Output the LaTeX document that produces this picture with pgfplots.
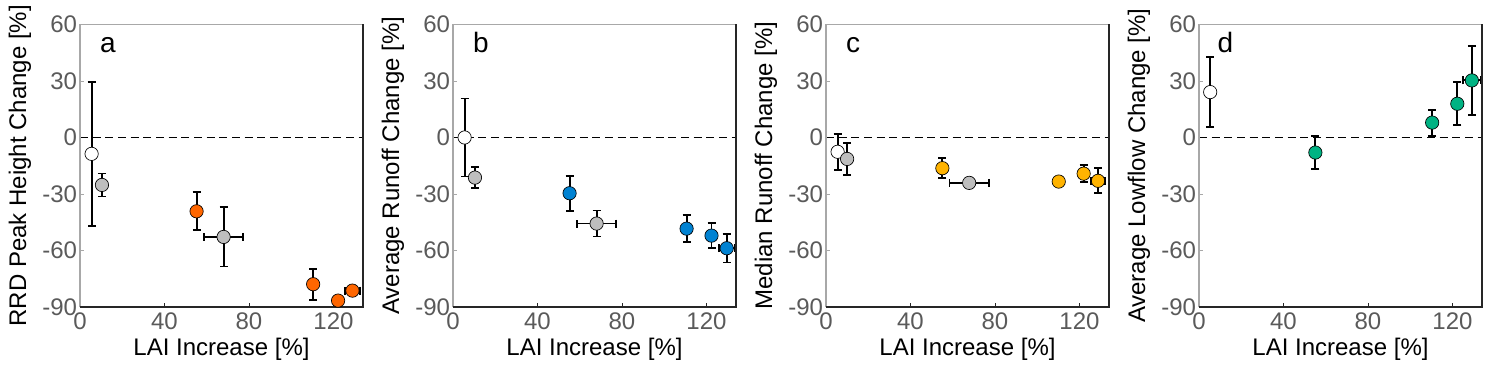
\documentclass[border=0pt]{standalone}
\usepackage{pgfplots}
\pgfplotsset{compat=1.18}
\usepackage{fontspec}
\setmainfont{Liberation Sans}
\definecolor{tickgray}{HTML}{5A5A5A}
\definecolor{axgray}{HTML}{A8A8A8}
\definecolor{dark}{HTML}{262626}
\definecolor{ptgray}{HTML}{BEBEBE}
\definecolor{porange}{HTML}{FF6600}
\definecolor{pblue}{HTML}{0082D2}
\definecolor{pyellow}{HTML}{FFB300}
\definecolor{pgreen}{HTML}{00B383}
\pgfplotsset{
  panel/.style={
    width=212.25pt, height=211.9pt, scale only axis,
    anchor=south west,
    xmin=0, xmax=134, ymin=-90, ymax=60,
    xtick={0,40,80,120}, xticklabels={0,40,80,120},
    ytick={-90,-60,-30,0,30,60}, yticklabels={-90,-60,-30,0,30,60},
    tick align=inside, major tick length=3pt, tick pos=left,
    axis line style={draw=none},
    ticklabel style={font=\fontsize{18}{20}\selectfont, text=tickgray},
    xticklabel style={inner sep=1pt, yshift=-3pt},
    yticklabel style={inner sep=2pt},
    x tick style={dark, line width=0.6pt},
    y tick style={axgray, line width=0.6pt},
    label style={font=\fontsize{18}{20}\selectfont},
    xlabel={LAI Increase [\%]},
    xlabel style={at={(axis description cs:0.5,-0.17)}, anchor=base, inner sep=0pt},
    ylabel style={at={(axis description cs:-0.19,0.5)}, anchor=base, inner sep=0pt},
    clip=false,
  },
  pts/.style={
    only marks, mark=*, mark size=5pt,
    mark options={draw=black, line width=0.5pt, fill=#1},
    error bars/.cd, x dir=both, x explicit, y dir=both, y explicit,
    error bar style={line width=1.4pt, black},
    error mark options={rotate=90, black, mark size=3pt, line width=1.4pt},
  },
  zero/.style={black, line width=1.4pt, dash pattern=on 6pt off 3.5pt, forget plot},
}
\newcommand{\frameaxis}{%
  \draw[axgray, line width=1pt] (rel axis cs:0,0) -- (rel axis cs:0,1) -- (rel axis cs:1,1);
  \draw[dark, line width=1pt] (rel axis cs:0,0) -- (rel axis cs:1,0) -- (rel axis cs:1,1);}
\newcommand{\panelletter}[2]{\node[anchor=base west, inner sep=0pt, font=\fontsize{21}{24}\selectfont] at (axis description cs:#1,0.9) {#2};}
\begin{document}
\begin{tikzpicture}
\useasboundingbox (0,0) rectangle (1117.5pt,289.5pt);
% ---------- a ----------
\begin{axis}[panel, at={(60pt,59.25pt)}, ylabel={RRD Peak Height Change [\%]}]
\addplot[zero] coordinates {(0,0) (134,0)};
\addplot[pts=white] table[x=x, y=y, x error=ex, y error=ey, row sep=\\] {
x y ex ey \\
5.5 -8.7 0 38.3 \\
};
\addplot[pts=ptgray] table[x=x, y=y, x error=ex, y error=ey, row sep=\\] {
x y ex ey \\
10.4 -25.2 0 6.1 \\
68.0 -52.8 9.2 15.7 \\
};
\addplot[pts=porange] table[x=x, y=y, x error=ex, y error=ey, row sep=\\] {
x y ex ey \\
55.2 -39.2 0 10.1 \\
110.4 -77.9 0 8.3 \\
122.2 -86.6 2.0 2.0 \\
129.0 -81.3 3.6 2.0 \\
};
\frameaxis
\panelletter{0.07}{a}
\end{axis}
% ---------- b ----------
\begin{axis}[panel, at={(339.75pt,59.25pt)}, ylabel={Average Runoff Change [\%]}]
\addplot[zero] coordinates {(0,0) (134,0)};
\addplot[pts=white] table[x=x, y=y, x error=ex, y error=ey, row sep=\\] {
x y ex ey \\
5.5 0 0 20.7 \\
};
\addplot[pts=ptgray] table[x=x, y=y, x error=ex, y error=ey, row sep=\\] {
x y ex ey \\
10.4 -21.3 0 5.4 \\
68.0 -45.7 9.2 6.9 \\
};
\addplot[pts=pblue] table[x=x, y=y, x error=ex, y error=ey, row sep=\\] {
x y ex ey \\
55.2 -29.6 0 9.3 \\
110.6 -48.4 0 7.3 \\
122.4 -52.1 2.0 6.8 \\
129.6 -58.8 3.7 7.6 \\
};
\frameaxis
\panelletter{0.07}{b}
\end{axis}
% ---------- c ----------
\begin{axis}[panel, at={(619.5pt,59.25pt)}, ylabel={Median Runoff Change [\%]}]
\addplot[zero] coordinates {(0,0) (134,0)};
\addplot[pts=white] table[x=x, y=y, x error=ex, y error=ey, row sep=\\] {
x y ex ey \\
5.5 -7.6 0 9.6 \\
};
\addplot[pts=ptgray] table[x=x, y=y, x error=ex, y error=ey, row sep=\\] {
x y ex ey \\
10.0 -11.4 0 8.4 \\
67.8 -24.1 9.3 2.0 \\
};
\addplot[pts=pyellow] table[x=x, y=y, x error=ex, y error=ey, row sep=\\] {
x y ex ey \\
55.1 -16.3 0 5.2 \\
110.2 -23.4 0 1.5 \\
122.0 -19.2 1.5 4.6 \\
128.8 -23.0 3.5 6.6 \\
};
\frameaxis
\panelletter{0.07}{c}
\end{axis}
% ---------- d ----------
\begin{axis}[panel, at={(899.25pt,59.25pt)}, ylabel={Average Lowflow Change [\%]}]
\addplot[zero] coordinates {(0,0) (134,0)};
\addplot[pts=white] table[x=x, y=y, x error=ex, y error=ey, row sep=\\] {
x y ex ey \\
5.3 24.1 0 18.4 \\
};
\addplot[pts=pgreen] table[x=x, y=y, x error=ex, y error=ey, row sep=\\] {
x y ex ey \\
55.1 -8.0 0 8.9 \\
110.4 7.9 0 6.9 \\
122.3 17.9 1.5 11.4 \\
129.2 30.3 4.1 18.4 \\
};
\frameaxis
\panelletter{0.065}{d}
\end{axis}
\end{tikzpicture}
\end{document}
